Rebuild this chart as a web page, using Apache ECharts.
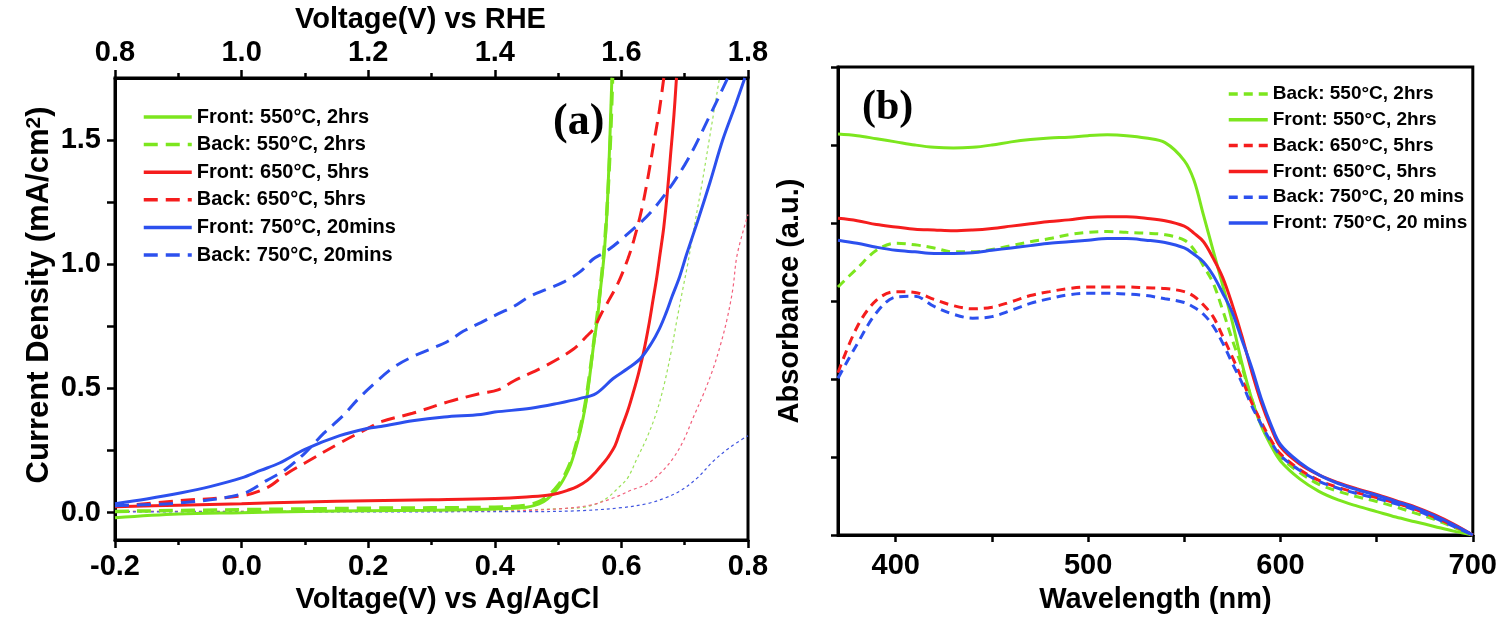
<!DOCTYPE html>
<html>
<head>
<meta charset="utf-8">
<script src="https://cdn.jsdelivr.net/npm/echarts@6/dist/echarts.min.js"></script>
<style>
  html, body { margin: 0; padding: 0; background: #fff; }
  #main { width: 1500px; height: 620px; }
</style>
</head>
<body>
<div id="main"></div>
<script>
// (a) current density vs voltage (V vs Ag/AgCl), pairs [V, mA/cm2]
var frontA550 = [[-0.2,-0.02],[-0.1,-0.005],[0,0.0],[0.1,0.005],[0.2,0.008],[0.3,0.01],[0.4,0.015],[0.45,0.022],[0.47,0.035],[0.483,0.055],[0.495,0.085],[0.504,0.115],[0.512,0.15],[0.52,0.195],[0.528,0.26],[0.535,0.327],[0.541,0.4],[0.546,0.474],[0.551,0.57],[0.556,0.673],[0.562,0.78],[0.567,0.9],[0.572,1.02],[0.577,1.2],[0.581,1.45],[0.585,1.75]];
var backA550 = [[-0.2,0.005],[0,0.012],[0.2,0.018],[0.4,0.022],[0.45,0.03],[0.47,0.045],[0.485,0.07],[0.5,0.11],[0.512,0.16],[0.522,0.22],[0.532,0.31],[0.54,0.4],[0.546,0.49],[0.552,0.6],[0.558,0.72],[0.564,0.84],[0.569,0.96],[0.574,1.1],[0.579,1.3],[0.583,1.52],[0.586,1.75]];
var frontA650 = [[-0.2,0.024],[-0.1,0.03],[0,0.036],[0.1,0.043],[0.2,0.048],[0.3,0.052],[0.4,0.057],[0.45,0.063],[0.483,0.07],[0.5,0.078],[0.515,0.09],[0.53,0.105],[0.546,0.13],[0.56,0.165],[0.57,0.195],[0.578,0.22],[0.59,0.27],[0.598,0.327],[0.61,0.41],[0.619,0.486],[0.627,0.56],[0.635,0.645],[0.643,0.75],[0.65,0.857],[0.656,0.95],[0.661,1.04],[0.667,1.15],[0.673,1.3],[0.678,1.45],[0.683,1.6],[0.687,1.75]];
var backA650 = [[-0.2,0.024],[-0.1,0.048],[0,0.068],[0.04,0.1],[0.07,0.155],[0.1,0.2],[0.155,0.28],[0.2,0.34],[0.22,0.366],[0.27,0.4],[0.326,0.446],[0.378,0.48],[0.405,0.494],[0.43,0.53],[0.483,0.595],[0.525,0.66],[0.545,0.71],[0.556,0.74],[0.568,0.8],[0.578,0.845],[0.594,0.92],[0.61,1.02],[0.62,1.1],[0.632,1.22],[0.642,1.35],[0.652,1.5],[0.66,1.62],[0.667,1.75]];
var frontA750 = [[-0.2,0.036],[-0.15,0.055],[-0.095,0.08],[-0.05,0.105],[0,0.14],[0.03,0.17],[0.06,0.2],[0.1,0.255],[0.155,0.31],[0.2,0.34],[0.22,0.347],[0.27,0.37],[0.32,0.385],[0.378,0.395],[0.4,0.405],[0.457,0.42],[0.5,0.44],[0.535,0.46],[0.56,0.48],[0.587,0.54],[0.61,0.58],[0.63,0.62],[0.647,0.68],[0.66,0.74],[0.67,0.8],[0.68,0.87],[0.692,0.95],[0.703,1.04],[0.72,1.17],[0.74,1.33],[0.76,1.5],[0.78,1.64],[0.795,1.75]];
var backA750 = [[-0.2,0.028],[-0.095,0.04],[0,0.075],[0.04,0.13],[0.07,0.175],[0.1,0.24],[0.13,0.32],[0.16,0.39],[0.185,0.46],[0.21,0.52],[0.24,0.585],[0.272,0.63],[0.3,0.66],[0.326,0.69],[0.35,0.73],[0.378,0.765],[0.405,0.8],[0.43,0.83],[0.455,0.87],[0.483,0.9],[0.51,0.93],[0.535,0.97],[0.555,1.02],[0.575,1.05],[0.6,1.1],[0.65,1.22],[0.7,1.4],[0.74,1.6],[0.768,1.75]];
// thin dotted curves (not in legend)
var darkA550 = [[-0.2,0.005],[0.2,0.005],[0.4,0.008],[0.46,0.012],[0.5,0.016],[0.535,0.02],[0.56,0.035],[0.578,0.06],[0.595,0.1],[0.61,0.14],[0.625,0.22],[0.64,0.3],[0.655,0.4],[0.667,0.51],[0.678,0.64],[0.688,0.78],[0.697,0.9],[0.704,0.99],[0.715,1.15],[0.727,1.32],[0.74,1.52],[0.755,1.75]];
var darkA650 = [[-0.2,0.005],[0.4,0.006],[0.5,0.015],[0.55,0.03],[0.588,0.06],[0.615,0.09],[0.64,0.115],[0.662,0.16],[0.682,0.22],[0.698,0.29],[0.713,0.38],[0.73,0.48],[0.745,0.58],[0.757,0.68],[0.767,0.78],[0.776,0.9],[0.783,1.04],[0.8,1.2]];
var darkA750 = [[-0.2,0.003],[0.45,0.004],[0.535,0.008],[0.6,0.02],[0.64,0.036],[0.67,0.06],[0.693,0.088],[0.72,0.14],[0.745,0.207],[0.77,0.26],[0.8,0.31]];

// (b) absorbance vs wavelength
var wavelength = [370,380,390,400,410,420,430,440,450,460,470,480,490,500,510,520,530,540,550,555,560,565,570,575,580,585,590,595,600,610,620,630,640,650,660,670,680,690,700];
var absFront550 = [5.14,5.12,5.08,5.04,5.0,4.97,4.96,4.97,5.0,5.04,5.07,5.09,5.1,5.12,5.13,5.12,5.09,5.03,4.8,4.55,4.1,3.65,3.2,2.73,2.2,1.75,1.4,1.15,0.95,0.72,0.56,0.45,0.37,0.3,0.23,0.17,0.11,0.05,0.0];
var absBack550 = [3.18,3.42,3.65,3.74,3.72,3.68,3.63,3.63,3.66,3.71,3.76,3.8,3.85,3.88,3.89,3.88,3.87,3.85,3.78,3.66,3.45,3.23,2.88,2.5,2.15,1.75,1.42,1.18,1.0,0.8,0.65,0.56,0.49,0.43,0.36,0.28,0.2,0.1,0.0];
var absFront650 = [4.06,4.03,3.98,3.95,3.92,3.91,3.9,3.91,3.93,3.96,3.99,4.02,4.04,4.07,4.08,4.08,4.06,4.03,3.96,3.87,3.76,3.55,3.3,2.95,2.55,2.1,1.7,1.38,1.13,0.91,0.77,0.67,0.59,0.52,0.44,0.36,0.26,0.14,0.0];
var absBack650 = [2.08,2.67,3.01,3.12,3.11,3.02,2.94,2.9,2.92,2.99,3.07,3.12,3.16,3.18,3.18,3.18,3.17,3.16,3.12,3.06,2.95,2.8,2.55,2.28,2.0,1.7,1.45,1.22,1.04,0.84,0.7,0.61,0.54,0.48,0.41,0.33,0.23,0.12,0.0];
var absFront750 = [3.78,3.74,3.69,3.65,3.63,3.61,3.61,3.62,3.65,3.68,3.71,3.74,3.76,3.78,3.8,3.8,3.78,3.75,3.68,3.6,3.5,3.33,3.1,2.85,2.5,2.15,1.75,1.42,1.16,0.93,0.77,0.66,0.58,0.51,0.43,0.35,0.25,0.13,0.0];
var absBack750 = [2.01,2.45,2.85,3.05,3.06,2.93,2.83,2.78,2.8,2.88,2.97,3.03,3.08,3.1,3.1,3.09,3.07,3.03,2.98,2.92,2.83,2.68,2.46,2.2,1.95,1.66,1.42,1.2,1.02,0.83,0.69,0.6,0.53,0.47,0.4,0.32,0.22,0.11,0.0];

var namesA = ['Front: 550°C, 2hrs', 'Back: 550°C, 2hrs', 'Front: 650°C, 5hrs', 'Back: 650°C, 5hrs', 'Front: 750°C, 20mins', 'Back: 750°C, 20mins'];
var namesB = ['Back: 550°C, 2hrs\u00a0', 'Front: 550°C, 2hrs\u00a0', 'Back: 650°C, 5hrs\u00a0', 'Front: 650°C, 5hrs\u00a0', 'Back: 750°C, 20 mins', 'Front: 750°C, 20 mins'];
var ticksY = [0, 0.5, 1.0, 1.5];
var ticksYall = [0, 0.25, 0.5, 0.75, 1.0, 1.25, 1.5];
var ticksB = [400, 500, 600, 700];
var ticksBall = [400, 450, 500, 550, 600, 650, 700];

var GREEN = '#7ce61e', RED = '#f51d1d', BLUE = '#2c50ee';
var SANS = 'Liberation Sans, Arial, sans-serif';
var SERIF = 'Liberation Serif, Times New Roman, serif';

var myChart = echarts.init(document.getElementById('main'));
window.addEventListener('resize', function () {
  myChart.resize();
});

function curve(name, data, color, type, width, xi, yi) {
  return {
    name: name,
    type: 'line',
    data: data,
    xAxisIndex: xi,
    yAxisIndex: yi,
    symbol: 'none',
    smooth: 0.35,
    clip: true,
    lineStyle: { color: color, width: width, type: type },
    itemStyle: { color: color },
    z: 3
  };
}
function pairs(xs, ys) {
  return xs.map(function (x, i) { return [x, ys[i]]; });
}

var tickLabel = { color: '#000', fontSize: 29, fontWeight: 'bold', fontFamily: SANS };
var axisName = { color: '#000', fontSize: 29, fontWeight: 'bold', fontFamily: SANS };
var blackLine = { onZero: false, lineStyle: { color: '#000', width: 3 } };
var tickStyle = { color: '#000', width: 2.5 };

myChart.setOption({
  backgroundColor: '#fff',
  animation: false,
  title: [
    { text: '(a)', left: 553, top: 101, padding: 0,
      textStyle: { fontFamily: SERIF, fontWeight: 'bold', fontSize: 44, color: '#000' } },
    { text: '(b)', left: 862, top: 87, padding: 0,
      textStyle: { fontFamily: SERIF, fontWeight: 'bold', fontSize: 42, color: '#000' } }
  ],
  legend: [
    {
      data: namesA, orient: 'vertical', left: 137, top: 101,
      itemWidth: 48, itemHeight: 12, itemGap: 5.6, selectedMode: false,
      itemStyle: { opacity: 0 }, lineStyle: { width: 3.5 },
      textStyle: { color: '#000', fontSize: 20, fontWeight: 'bold', fontFamily: SANS, lineHeight: 22 }
    },
    {
      data: namesB, orient: 'vertical', left: 1222, top: 79,
      itemWidth: 39, itemHeight: 12, itemGap: 5.8, selectedMode: false,
      itemStyle: { opacity: 0 }, lineStyle: { width: 3.5 },
      textStyle: { color: '#000', fontSize: 19, fontWeight: 'bold', fontFamily: SANS, lineHeight: 20 }
    }
  ],
  grid: [
    { left: 115, top: 69, width: 633, height: 471, show: true, borderColor: '#000', borderWidth: 3 },
    { left: 838, top: 67, width: 635, height: 468, show: true, borderColor: '#000', borderWidth: 3 }
  ],
  xAxis: [
    {
      gridIndex: 0, type: 'value', position: 'bottom', min: -0.2, max: 0.8, interval: 0.2,
      name: 'Voltage(V) vs Ag/AgCl', nameLocation: 'middle', nameGap: 44,
      nameTextStyle: Object.assign({ padding: [0, 0, 0, 32] }, axisName),
      axisLine: blackLine,
      axisTick: { length: 8, lineStyle: tickStyle },
      minorTick: { show: true, splitNumber: 2, length: 5, lineStyle: tickStyle },
      axisLabel: Object.assign({ margin: 12, formatter: function (v) { return v.toFixed(1); } }, tickLabel),
      splitLine: { show: false }
    },
    {
      gridIndex: 0, type: 'value', position: 'top', min: 0.8, max: 1.8, interval: 0.2,
      name: 'Voltage(V) vs RHE', nameLocation: 'middle', nameGap: 38,
      nameTextStyle: Object.assign({ padding: [0, 22, 0, 0] }, axisName),
      axisLine: blackLine,
      axisTick: { length: 8, lineStyle: tickStyle },
      minorTick: { show: true, splitNumber: 2, length: 5, lineStyle: tickStyle },
      axisLabel: Object.assign({ margin: 10, formatter: function (v) { return v.toFixed(1); } }, tickLabel),
      splitLine: { show: false }
    },
    {
      gridIndex: 1, type: 'value', position: 'bottom', min: 370, max: 700,
      name: 'Wavelength (nm)', nameLocation: 'middle', nameGap: 50,
      nameTextStyle: axisName,
      axisLine: blackLine,
      axisTick: { length: 7, customValues: ticksBall, lineStyle: tickStyle },
      axisLabel: Object.assign({ margin: 16, customValues: ticksB }, tickLabel),
      splitLine: { show: false }
    }
  ],
  yAxis: [
    {
      gridIndex: 0, type: 'value', position: 'left', min: -0.11, max: 1.75,
      name: 'Current Density (mA/cm{s|2})', nameLocation: 'middle', nameGap: 60,
      nameTextStyle: Object.assign({
        padding: [0, 0, 0, 28],
        rich: { s: { fontSize: 21, fontWeight: 'bold', fontFamily: SANS, color: '#000', verticalAlign: 'top', lineHeight: 14 } }
      }, axisName, { fontSize: 31 }),
      axisLine: blackLine,
      axisTick: { length: 8, customValues: ticksYall, lineStyle: tickStyle },
      axisLabel: Object.assign({ margin: 14, customValues: ticksY, formatter: function (v) { return v.toFixed(1); } }, tickLabel),
      splitLine: { show: false }
    },
    {
      gridIndex: 1, type: 'value', position: 'left', min: 0, max: 6, interval: 1,
      name: 'Absorbance (a.u.)', nameLocation: 'middle', nameGap: 34,
      nameTextStyle: axisName,
      axisLine: blackLine,
      axisTick: { length: 7, lineStyle: tickStyle },
      axisLabel: { show: false },
      splitLine: { show: false }
    }
  ],
  series: [
    curve('dark550', darkA550, '#9be25a', [3, 3], 1.2, 0, 0),
    curve('dark650', darkA650, '#f2607c', [3, 3], 1.2, 0, 0),
    curve('dark750', darkA750, '#4156e0', [3, 3], 1.2, 0, 0),
    curve(namesA[0], frontA550, GREEN, 'solid', 3, 0, 0),
    curve(namesA[1], backA550, GREEN, [14, 8], 3.5, 0, 0),
    curve(namesA[2], frontA650, RED, 'solid', 3, 0, 0),
    curve(namesA[3], backA650, RED, [14, 8], 3, 0, 0),
    curve(namesA[4], frontA750, BLUE, 'solid', 3, 0, 0),
    curve(namesA[5], backA750, BLUE, [14, 8], 3, 0, 0),
    curve(namesB[0], pairs(wavelength, absBack550), GREEN, [9, 6], 3, 2, 1),
    curve(namesB[1], pairs(wavelength, absFront550), GREEN, 'solid', 3, 2, 1),
    curve(namesB[2], pairs(wavelength, absBack650), RED, [9, 6], 3, 2, 1),
    curve(namesB[3], pairs(wavelength, absFront650), RED, 'solid', 3, 2, 1),
    curve(namesB[4], pairs(wavelength, absBack750), BLUE, [9, 6], 3, 2, 1),
    curve(namesB[5], pairs(wavelength, absFront750), BLUE, 'solid', 3, 2, 1)
  ]
});
</script>
</body>
</html>
